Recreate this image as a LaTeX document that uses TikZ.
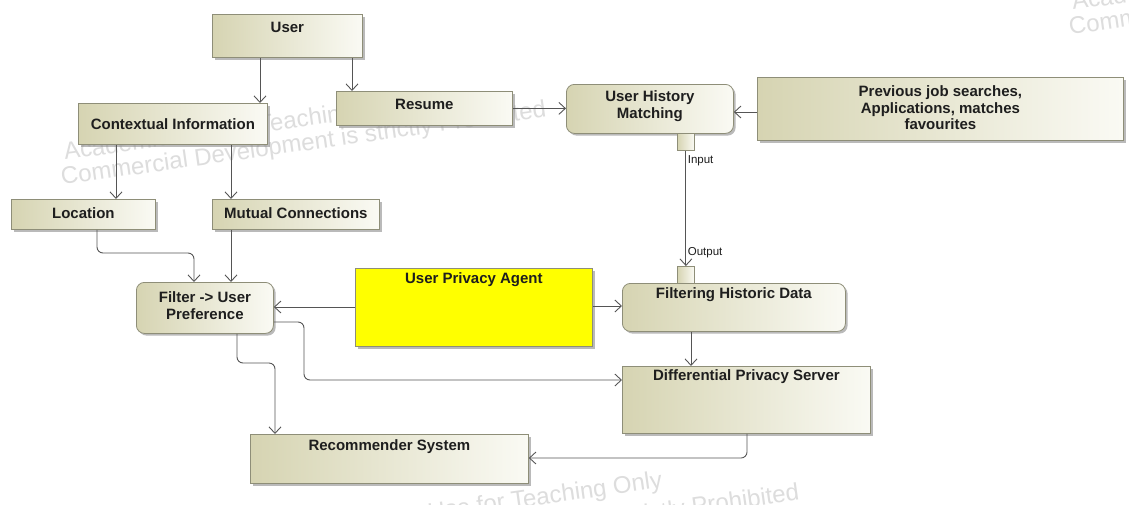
\documentclass[tikz,border=0pt]{standalone}
\usepackage{fontspec}
\setmainfont{Liberation Sans}
\usetikzlibrary{arrows.meta,shadows}
\definecolor{linec}{HTML}{555555}
\definecolor{boxline}{HTML}{8E8E78}
\definecolor{tanL}{HTML}{D6D4B2}
\definecolor{tanR}{HTML}{FAFAF4}
\definecolor{upay}{HTML}{FFFF00}
\definecolor{wmc}{HTML}{DDDDDD}
\definecolor{txt}{HTML}{1E1E1E}
\tikzset{
  box/.style={draw=boxline, line width=0.8pt, left color=tanL, right color=tanR,
    drop shadow={shadow xshift=2.2pt, shadow yshift=-2.2pt, fill=black!45, opacity=0.6},
    anchor=north west, inner sep=0pt},
  rbox/.style={box, rounded corners=8pt},
  ybox/.style={draw=boxline, line width=0.8pt, fill=upay,
    drop shadow={shadow xshift=2.2pt, shadow yshift=-2.2pt, fill=black!45, opacity=0.6},
    anchor=north west, inner sep=0pt},
  port/.style={draw=boxline, line width=0.8pt, left color=tanL, right color=tanR,
    anchor=north west, inner sep=0pt, minimum width=17pt, minimum height=17pt},
  lbl/.style={font=\bfseries\fontsize{15}{17}\selectfont, text=txt, align=center, inner sep=0pt},
  plbl/.style={font=\fontsize{11.5}{13}\selectfont, text=txt, inner sep=1.5pt, anchor=west},
  wm/.style={font=\fontsize{24}{26}\selectfont, text=wmc, rotate=8, inner sep=0pt},
  conn/.style={draw=linec, line width=0.9pt, -{Straight Barb[length=6.5pt,width=12pt]}},
}
\begin{document}
\begin{tikzpicture}[x=1pt,y=-1pt]
\useasboundingbox (0,0) rectangle (1129,504);
\fill[white] (0,0) rectangle (1129,504);
% watermarks
\begin{scope}
\clip (0,0) rectangle (1129,504);
\node[wm, anchor=base west] (wma1) at (65,160) {Academic Use for Teaching Only};
\node[wm, anchor=base west] (wma2) at (62,185) {Commercial Development is strictly Prohibited};
\node[wm, anchor=base west] (wmb1) at (318,536) {Academic Use for Teaching Only};
\node[wm, anchor=base west] (wmb2) at (315,568) {Commercial Development is strictly Prohibited};
\node[wm, anchor=base west] (wmc1) at (1073,10) {Academic Use for Teaching Only};
\node[wm, anchor=base west] (wmc2) at (1070,35) {Commercial Development is strictly Prohibited};
\end{scope}
% boxes
\node[box, minimum width=150pt, minimum height=43pt] (user) at (212,14) {};
\node[lbl] (userT) at ([yshift=-13pt]user.north) {User};
\node[box, minimum width=189pt, minimum height=41pt] (ctx) at (78,103) {};
\node[lbl] (ctxT) at (ctx.center) {Contextual Information};
\node[box, minimum width=176pt, minimum height=34pt] (resume) at (336,91) {};
\node[lbl] (resumeT) at ([yshift=-13pt]resume.north) {Resume};
\node[box, minimum width=144pt, minimum height=30pt] (loc) at (11,199) {};
\node[lbl] (locT) at ([yshift=1pt]loc.center) {Location};
\node[box, minimum width=167pt, minimum height=30pt] (mutual) at (212,199) {};
\node[lbl] (mutualT) at ([yshift=1pt]mutual.center) {Mutual Connections};
\node[rbox, minimum width=167pt, minimum height=49pt] (uhm) at (566,84) {};
\node[lbl] (uhmT) at ([yshift=3pt]uhm.center) {User History\\Matching};
\node[box, minimum width=366pt, minimum height=63pt] (prev) at (757,77) {};
\node[lbl, font=\bfseries\fontsize{15}{16.5}\selectfont] (prevT) at ([yshift=1pt]prev.center) {Previous job searches,\\Applications, matches\\favourites};
\node[rbox, minimum width=137pt, minimum height=51pt] (filter) at (136,282) {};
\node[lbl] (filterT) at ([yshift=2pt]filter.center) {Filter -> User\\Preference};
\node[ybox, minimum width=237pt, minimum height=78pt] (upa) at (355,268) {};
\node[lbl] (upaT) at ([yshift=-12pt]upa.north) {User Privacy Agent};
\node[rbox, minimum width=223pt, minimum height=48pt] (fhd) at (622,283) {};
\node[lbl] (fhdT) at ([yshift=-12pt]fhd.north) {Filtering Historic Data};
\node[box, minimum width=248pt, minimum height=67pt] (dps) at (622,366) {};
\node[lbl] (dpsT) at ([yshift=-11pt]dps.north) {Differential Privacy Server};
\node[box, minimum width=278pt, minimum height=49pt] (rec) at (250,434) {};
\node[lbl] (recT) at ([yshift=-13pt]rec.north) {Recommender System};
% ports
\node[port] (uhmP) at (677,133) {};
\node[port] (fhdP) at (677,266) {};
% connectors
\draw[conn] (user.south -| 260,0) -- (ctx.north -| 260,0);
\draw[conn] (user.south -| 352,0) -- (resume.north -| 352,0);
\draw[conn] (ctx.south -| 116,0) -- (loc.north -| 116,0);
\draw[conn] (ctx.south -| 231,0) -- (mutual.north -| 231,0);
\draw[conn] (resume.east) -- (resume.east -| uhm.west);
\draw[conn] (prev.west |- 0,112) -- (uhm.east |- 0,112);
\draw[conn, rounded corners=6pt] (loc.south -| 97,0) -- (97,253) -- (194,253) -- (filter.north -| 194,0);
\draw[conn] (mutual.south -| 231,0) -- (filter.north -| 231,0);
\draw[conn] (upa.west |- 0,307) -- (filter.east |- 0,307);
\draw[conn] (upa.east |- 0,306) -- (fhd.west |- 0,306);
\draw[conn, rounded corners=6pt] (filter.south -| 237,0) -- (237,363) -- (275,363) -- (rec.north -| 275,0);
\draw[conn, rounded corners=6pt] (filter.east |- 0,322) -- (304,322) -- (304,380) -- (dps.west |- 0,380);
\draw[conn] (fhd.south -| 691,0) -- (dps.north -| 691,0);
\draw[conn, rounded corners=6pt] (dps.south -| 747,0) -- (747,458) -- (rec.east |- 0,458);
\draw[conn] (uhmP.south) -- (fhdP.north)
  node[plbl, pos=0.09] (inL) {Input}
  node[plbl, pos=0.885] (outL) {Output};
\end{tikzpicture}
\end{document}
